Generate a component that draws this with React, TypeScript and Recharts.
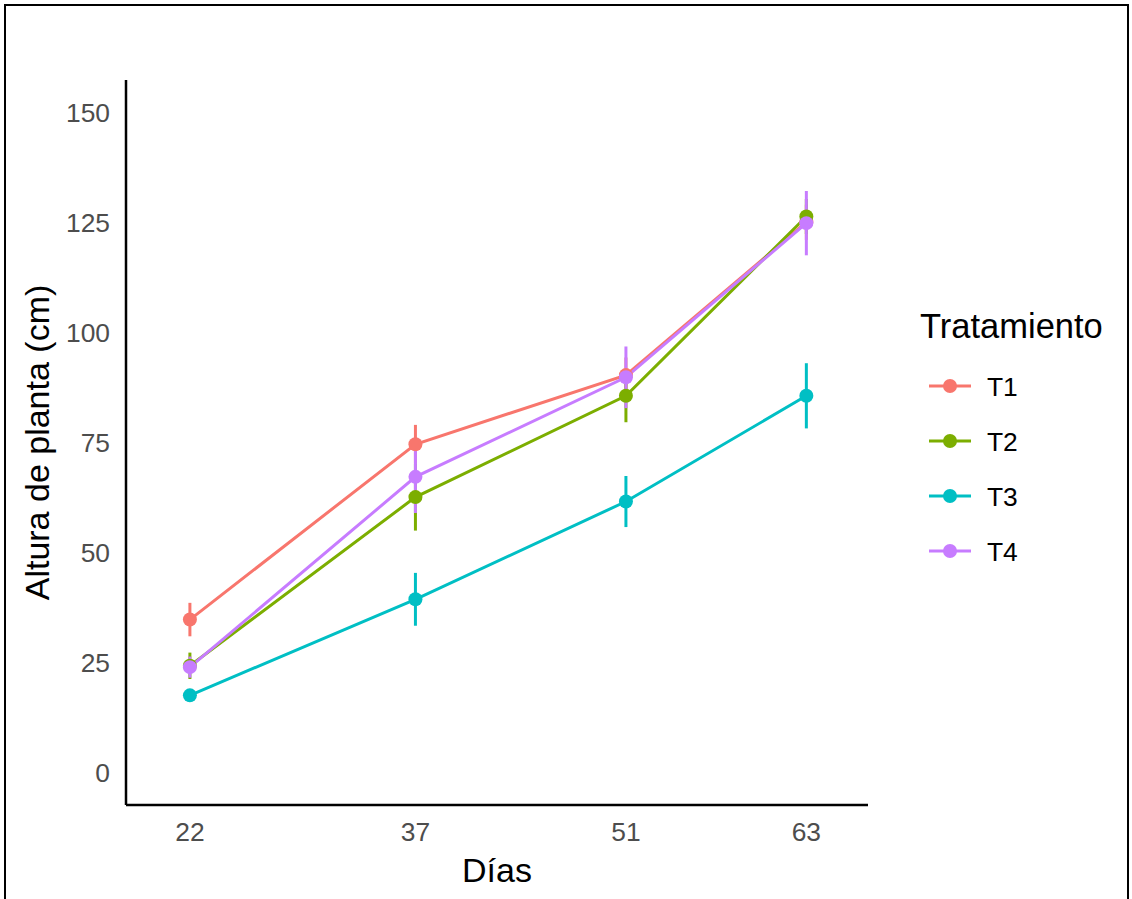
import React from 'react';
import { LineChart, Line, XAxis, YAxis, ErrorBar, Legend } from 'recharts';

const dias = [22, 37, 51, 63];
const seriesNames = ['T1', 'T2', 'T3', 'T4'];
const colors = ['#F8766D', '#7CAE00', '#00BFC4', '#C77CFF'];

const t1 = [34.8, 74.6, 90.3, 125.0];
const t2 = [24.3, 62.6, 85.6, 126.3];
const t3 = [17.6, 39.4, 61.6, 85.6];
const t4 = [24.0, 67.2, 89.8, 124.8];

const t1Err = [3.8, 4.4, 4.0, 4.0];
const t2Err = [3.0, 7.6, 6.0, 4.0];
const t3Err = [1.0, 6.0, 5.8, 7.4];
const t4Err = [2.4, 8.2, 7.0, 7.3];

const yTicks = [0, 25, 50, 75, 100, 125, 150];

const values = [t1, t2, t3, t4];
const errors = [t1Err, t2Err, t3Err, t4Err];

const data = dias.map((d, i) => {
  const row: any = { dia: d };
  seriesNames.forEach((s, k) => {
    row[s] = values[k][i];
    row[s + 'err'] = [errors[k][i], errors[k][i]];
  });
  return row;
});

const FONT = '"Liberation Sans", Arial, Helvetica, sans-serif';

const LegendContent = () => (
  <div style={{ position: 'relative', width: 0, height: 0 }}>
    <svg
      width={220}
      height={300}
      style={{ position: 'absolute', left: 0, top: 0, overflow: 'visible' }}
    >
      <text x={5} y={38} fontSize={34.5} fontFamily={FONT} fill="#000">
        Tratamiento
      </text>
      {seriesNames.map((s, k) => {
        const cy = 86 + k * 55;
        return (
          <g key={s}>
            <line x1={14} x2={56} y1={cy} y2={cy} stroke={colors[k]} strokeWidth={3} />
            <circle cx={35} cy={cy} r={7} fill={colors[k]} />
            <text x={72} y={cy + 9.5} fontSize={26.4} fontFamily={FONT} fill="#000">
              {s}
            </text>
          </g>
        );
      })}
    </svg>
  </div>
);

export default function App() {
  return (
    <div style={{ position: 'fixed', left: 0, top: 0, width: 1132, height: 899, background: '#fff', overflow: 'hidden' }}>
      <div
        style={{
          position: 'absolute',
          left: 4,
          top: 4,
          width: 1121,
          height: 920,
          border: '2.5px solid #000',
        }}
      />
      <div style={{ position: 'absolute', left: 0, top: 0 }}>
        <LineChart
          width={1132}
          height={899}
          data={data}
          margin={{ top: 80, right: 264, bottom: 0, left: 0 }}
          style={{ fontFamily: FONT }}
        >
          <XAxis
            dataKey="dia"
            type="number"
            domain={[17.75, 67.1]}
            ticks={dias}
            allowDataOverflow
            height={94}
            tickLine={false}
            tickSize={0}
            tickMargin={17}
            axisLine={{ stroke: '#000', strokeWidth: 2.5 }}
            tick={{ fill: '#4D4D4D', fontSize: 26.4, fontFamily: FONT }}
            label={{ value: 'Días', position: 'insideBottom', offset: 17, fill: '#000', fontSize: 34, fontFamily: FONT }}
          />
          <YAxis
            type="number"
            domain={[-7.3, 157.3]}
            ticks={yTicks}
            allowDataOverflow
            width={126}
            tickLine={false}
            tickSize={0}
            tickMargin={16}
            axisLine={{ stroke: '#000', strokeWidth: 2.5 }}
            tick={{ fill: '#4D4D4D', fontSize: 26.4, fontFamily: FONT }}
            label={{
              value: 'Altura de planta (cm)',
              angle: -90,
              position: 'insideLeft',
              offset: 37,
              fill: '#000',
              fontSize: 34,
              fontFamily: FONT,
              style: { textAnchor: 'middle' },
            }}
          />
          <Legend
            layout="vertical"
            verticalAlign="top"
            align="left"
            wrapperStyle={{ left: 915, top: 300, width: 0, height: 0 }}
            content={() => <LegendContent />}
          />
          {seriesNames.map((s, k) => (
            <Line
              key={s}
              dataKey={s}
              name={s}
              type="linear"
              stroke={colors[k]}
              strokeWidth={3}
              dot={{ r: 7, fill: colors[k], stroke: colors[k], strokeWidth: 0 }}
              activeDot={false}
              isAnimationActive={false}
            >
              <ErrorBar
                dataKey={s + 'err'}
                direction="y"
                width={0}
                stroke={colors[k]}
                strokeWidth={3}
                isAnimationActive={false}
              />
            </Line>
          ))}
        </LineChart>
      </div>
    </div>
  );
}
